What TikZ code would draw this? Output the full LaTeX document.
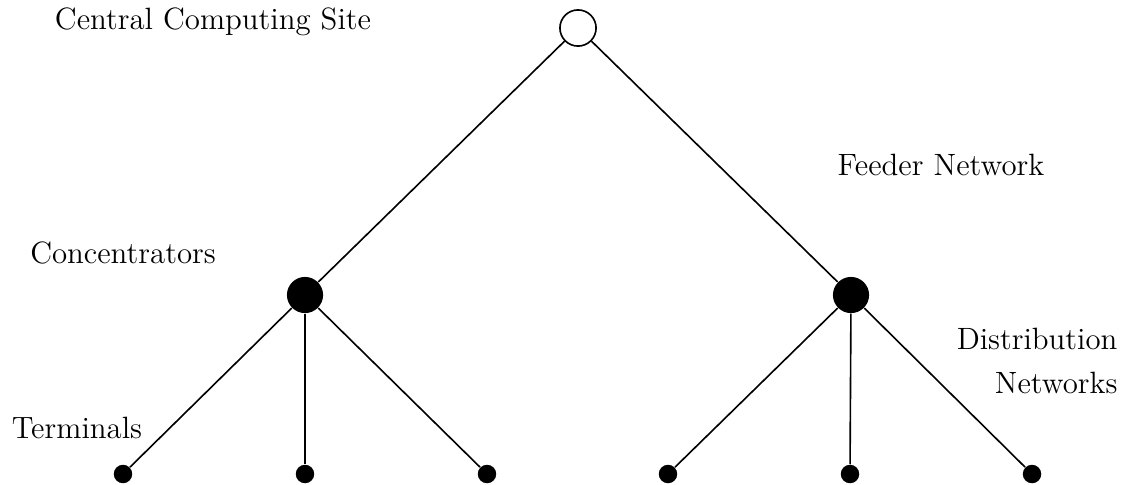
\documentclass[tikz,border=0pt]{standalone}
\usetikzlibrary{positioning}

\begin{document}
\begin{tikzpicture}[
    x=0.013cm, y=-0.013cm,
    font=\fontsize{11.4}{16.6}\selectfont,
    site/.style={circle, draw, line width=0.6pt, fill=white, minimum size=0.47cm, inner sep=0pt},
    concentrator/.style={circle, fill=black, minimum size=0.47cm, inner sep=0pt},
    terminal/.style={circle, fill=black, minimum size=0.24cm, inner sep=0pt},
    link/.style={line width=0.6pt},
    lbl/.style={align=center, inner sep=0pt}
]
\useasboundingbox (0,0) rectangle (1122,484);

% Nodes
\node[site] (root) at (578,28) {};
\node[concentrator] (concL) at (305,295) {};
\node[concentrator] (concR) at (851,295) {};
\node[terminal] (t1) at (123,474) {};
\node[terminal] (t2) at (305,474) {};
\node[terminal] (t3) at (487,474) {};
\node[terminal] (t4) at (668,474) {};
\node[terminal] (t5) at (850,474) {};
\node[terminal] (t6) at (1032,474) {};

% Labels
\node[lbl] (siteLbl) at (213,22) {Central Computing Site};
\node[lbl] (feederLbl) at (941,165) {Feeder Network};
\node[lbl] (concLbl) at (123,253) {Concentrators};
\node[lbl, align=right, anchor=east] (distLbl) at (1118,361) {Distribution\\Networks};
\node[lbl] (termLbl) at (77,428) {Terminals};

% Links
\draw[link] (root) -- (concL);
\draw[link] (root) -- (concR);
\draw[link] (concL) -- (t1);
\draw[link] (concL) -- (t2);
\draw[link] (concL) -- (t3);
\draw[link] (concR) -- (t4);
\draw[link] (concR) -- (t5);
\draw[link] (concR) -- (t6);

\end{tikzpicture}
\end{document}
